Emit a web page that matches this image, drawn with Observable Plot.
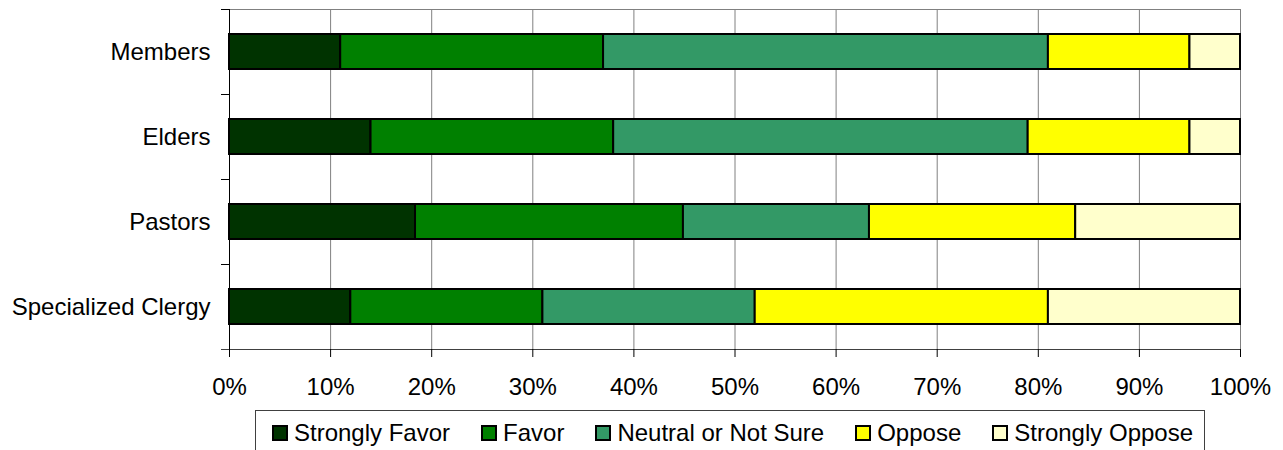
<!DOCTYPE html>
<html>
<head>
<meta charset="utf-8">
<script src="https://cdn.jsdelivr.net/npm/d3@7"></script>
<script src="https://cdn.jsdelivr.net/npm/@observablehq/plot@0.6"></script>
<style>
  body { margin: 0; background: #fff; font-family: "Liberation Sans", Arial, sans-serif; }
  #wrap { position: relative; width: 1283px; height: 450px; overflow: hidden; }
  #legend {
    position: absolute; left: 255px; top: 410px; width: 950px; height: 60px;
    border: 1px solid #404040; box-sizing: border-box;
    display: flex; align-items: center; align-content: flex-start;
    padding: 10px 0 0 16px; height: 60px; align-items: flex-start;
    font-size: 24px; line-height: 24px; color: #000;
  }
  .item { display: flex; align-items: center; margin-right: 31px; white-space: nowrap; }
  .swatch { width: 16px; height: 16px; box-sizing: border-box; border: 2px solid #000; margin-right: 6px; }
</style>
</head>
<body>
<div id="wrap"><div id="legend"></div></div>
<script>
// Survey groups, top to bottom
const groups = ["Members", "Elders", "Pastors", "Specialized Clergy"];
// Response categories, stacked left to right
const responses = ["Strongly Favor", "Favor", "Neutral or Not Sure", "Oppose", "Strongly Oppose"];
const colors = ["#003300", "#008000", "#339966", "#FFFF00", "#FFFFCC"];

// Share of each group (percent), one array per response
const stronglyFavor  = [11, 14, 18.4, 12];
const favor          = [26, 24, 26.5, 19];
const neutral        = [44, 41, 18.4, 21];
const oppose         = [14, 16, 20.4, 29];
const stronglyOppose = [5, 5, 16.3, 19];

const xTicks = [0, 10, 20, 30, 40, 50, 60, 70, 80, 90, 100];

const series = [stronglyFavor, favor, neutral, oppose, stronglyOppose];
const rows = [];
responses.forEach((r, k) => groups.forEach((g, i) => rows.push({group: g, response: r, value: series[k][i]})));

const width = 1283, height = 405;
const marginLeft = 229, marginRight = 43, marginTop = 9, marginBottom = 56;
const step = (height - marginTop - marginBottom) / groups.length;
const tickLen = 8;
const tickStart = -tickLen * 100 / (width - marginLeft - marginRight);

const chart = Plot.plot({
  width, height, marginLeft, marginRight, marginTop, marginBottom,
  style: {fontFamily: "'Liberation Sans', Arial, sans-serif", background: "#fff", overflow: "visible"},
  x: {domain: [0, 100]},
  y: {domain: groups, paddingInner: 0.588, paddingOuter: 0.294},
  color: {domain: responses, range: colors},
  marks: [
    // vertical gridlines
    Plot.ruleX(xTicks.filter(t => t > 0), {stroke: "#808080", strokeOpacity: 1}),
    Plot.frame({anchor: "top", stroke: "#808080"}),
    Plot.barX(rows, Plot.stackX({
      x: "value", y: "group", fill: "response", order: responses,
      stroke: "#000", strokeWidth: 2
    })),
    // value axis line and category boundary ticks
    Plot.ruleX([0], {stroke: "#000"}),
    Plot.ruleY(groups, {x1: tickStart, x2: 0, dy: -step / 2, stroke: "#000"}),
    Plot.ruleY(groups.slice(-1), {x1: tickStart, x2: 100, dy: step / 2, stroke: "#404040"}),
    Plot.axisX({ticks: xTicks, tickFormat: d => d + "%", tickSize: tickLen, tickPadding: 20, fontSize: 24, label: null}),
    Plot.axisY({tickSize: 0, tickPadding: 19, fontSize: 24, label: null})
  ]
});
document.getElementById("wrap").prepend(chart);

// legend
const legend = d3.select("#legend");
responses.forEach((r, k) => {
  const item = legend.append("div").attr("class", "item");
  item.append("div").attr("class", "swatch").style("background", colors[k]);
  item.append("span").text(r);
});
</script>
</body>
</html>
